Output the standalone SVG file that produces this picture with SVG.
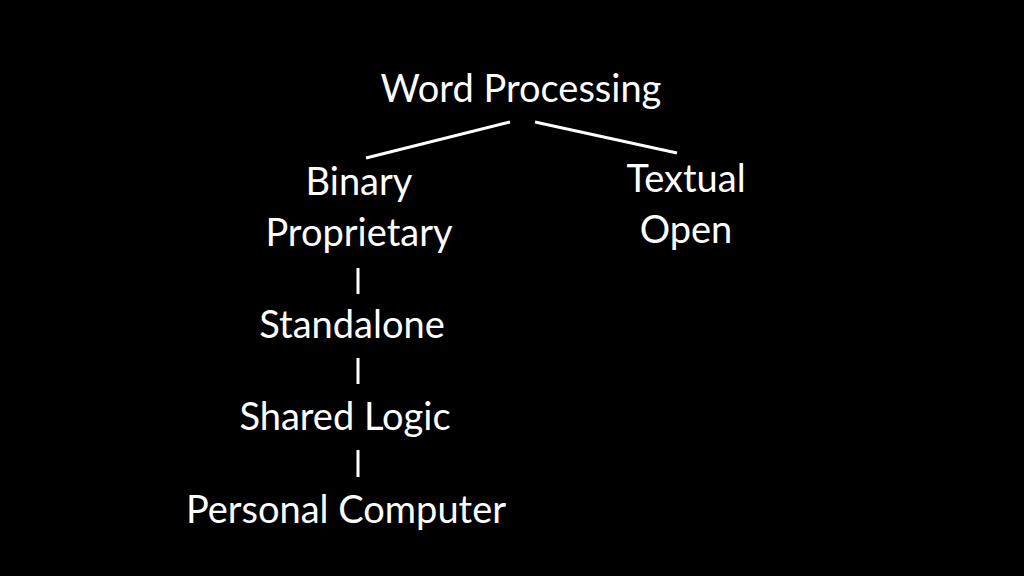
<svg xmlns="http://www.w3.org/2000/svg" width="1024" height="576" viewBox="0 0 1024 576">
<style>
text{font-family:Lato,"Open Sans",sans-serif;font-size:38px;fill:#fff;text-anchor:middle}
line{stroke:#fff;stroke-width:3}
</style>
<rect width="1024" height="576" fill="#000"/>
<g id="connectors">
<line x1="366" y1="158" x2="510" y2="122"/>
<line x1="535" y1="122" x2="677" y2="153"/>
<line x1="358" y1="268" x2="358" y2="294"/>
<line x1="358" y1="358" x2="358" y2="384"/>
<line x1="358" y1="450" x2="358" y2="477"/>
</g>
<g id="root"><text x="521" y="102">Word Processing</text></g>
<g id="binary"><text x="359" y="195">Binary</text><text x="359" y="246">Proprietary</text></g>
<g id="textual"><text x="686" y="192">Textual</text><text x="686" y="243">Open</text></g>
<g id="standalone"><text x="352" y="338">Standalone</text></g>
<g id="shared"><text x="345" y="430">Shared Logic</text></g>
<g id="pc"><text x="346" y="523">Personal Computer</text></g>
</svg>
